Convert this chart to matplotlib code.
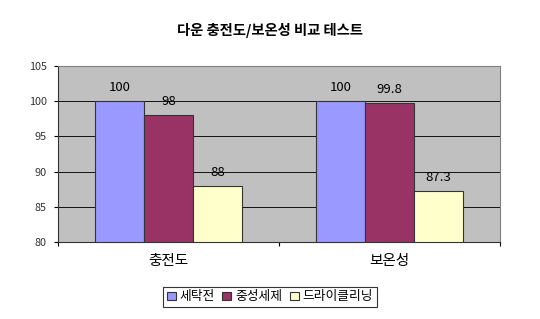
import matplotlib.pyplot as plt
import numpy as np
from matplotlib.patches import Patch

plt.rcParams['font.family'] = ['Noto Sans CJK KR', 'DejaVu Sans']

categories = ['충전도', '보온성']
series_names = ['세탁전', '중성세제', '드라이클리닝']
values = [[100, 100], [98, 99.8], [88, 87.3]]
value_labels = [['100', '100'], ['98', '99.8'], ['88', '87.3']]
colors = ['#9999FF', '#993366', '#FFFFCC']
yticks = [80, 85, 90, 95, 100, 105]

fig = plt.figure(figsize=(5.4, 3.19), dpi=100)
ax = fig.add_axes([0.1074, 0.2414, 0.8185, 0.5517])
ax.set_facecolor('#C0C0C0')

x = np.arange(len(categories))
w = 0.222
for i, (name, vals) in enumerate(zip(series_names, values)):
    pos = x + (i - 1) * w
    ax.bar(pos, np.array(vals) - 80, width=w, bottom=80, color=colors[i],
           edgecolor='#333333', linewidth=0.8, zorder=3)
    for p, v, lab in zip(pos, vals, value_labels[i]):
        ax.annotate(lab, (p, v), xytext=(0, 5), textcoords='offset points',
                    ha='center', va='bottom', fontsize=9.5)

ax.set_xlim(-0.5, 1.5)
ax.set_ylim(80, 105)
ax.set_yticks(yticks)
ax.set_yticklabels([str(t) for t in yticks], fontsize=7.8, color='#333333')
ax.yaxis.grid(True, color='#111111', linewidth=0.7, zorder=0)
ax.set_axisbelow(True)
ax.tick_params(axis='y', length=3, width=0.8, pad=5)

ax.set_xticks([-0.5, 0.5, 1.5])
ax.set_xticklabels(['', '', ''])
ax.set_xticks(x, minor=True)
ax.set_xticklabels(categories, minor=True, fontsize=10.5)
ax.tick_params(axis='x', which='major', length=3, width=0.8)
ax.tick_params(axis='x', which='minor', length=0, pad=9)

for s in ['left', 'bottom']:
    ax.spines[s].set_color('#333333')
    ax.spines[s].set_linewidth(0.8)
for s in ['top', 'right']:
    ax.spines[s].set_color('#808080')
    ax.spines[s].set_linewidth(0.8)

fig.text(0.5, 0.905, '다운 충전도/보온성 비교 테스트', ha='center', va='center',
         fontsize=10.3, fontweight='bold')

handles = [Patch(facecolor=c, edgecolor='#333333', linewidth=0.8) for c in colors]
leg = fig.legend(handles, series_names, loc='center', bbox_to_anchor=(0.5, 0.069),
                 ncol=3, fontsize=9.2, frameon=True, fancybox=False,
                 handlelength=0.7, handleheight=0.7, handletextpad=0.3,
                 columnspacing=0.6, borderpad=0.3, edgecolor='black')
leg.get_frame().set_linewidth(0.8)

fig.savefig('out.png', dpi=100)
